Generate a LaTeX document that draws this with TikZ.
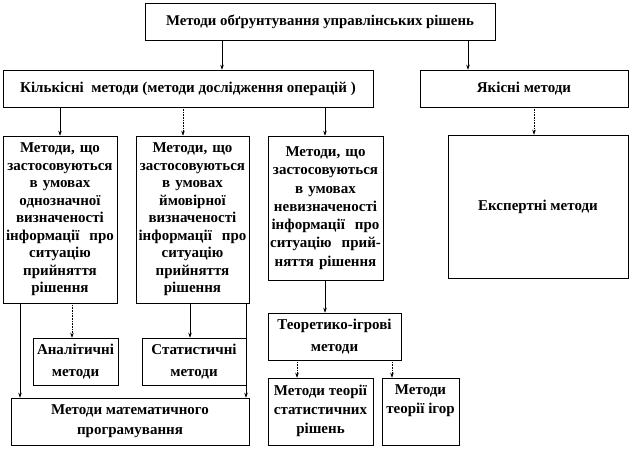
\documentclass[tikz,border=0pt]{standalone}
\usepackage{fontspec}
\setmainfont{Liberation Serif}
\usetikzlibrary{arrows.meta}
\begin{document}
\begin{tikzpicture}[x=1pt,y=-1pt,
  box/.style={draw, line width=0.6pt, inner sep=0pt, align=center, font=\bfseries\fontsize{15}{17.5}\selectfont},
  arr/.style={line width=0.6pt, -{Stealth[length=5pt,width=3.5pt]}},
  darr/.style={arr, densely dotted}]
\useasboundingbox (0,0) rectangle (631,449);
\node[box, minimum width=350, minimum height=37, font=\bfseries\fontsize{14.8}{17}\selectfont] (top) at (320,21.5) {Методи обґрунтування управлінських рішень};
\node[box, minimum width=370, minimum height=37] (kil) at (188,88.5) {Кількісні\ \ методи (методи дослідження операцій )};
\node[box, minimum width=208, minimum height=37] (yak) at (524,88.5) {Якісні методи};
\node[box, minimum width=114, minimum height=167, text width=114] (b1) at (60,219.5) {Методи, що\\застосовуються\\в умовах\\однозначної\\визначеності\\інформації\ \ про\\ситуацію\\прийняття\\рішення};
\node[box, minimum width=113, minimum height=167, text width=113] (b2) at (192.5,219.5) {Методи, що\\застосовуються\\в умовах\\ймовірної\\визначеності\\інформації\ \ про\\ситуацію\\прийняття\\рішення};
\node[box, minimum width=115, minimum height=144, text width=115, font=\bfseries\fontsize{15}{18.3}\selectfont] (b3) at (325.5,208) {Методи, що\\застосовуються\\в умовах\\невизначеності\\інформації\ \ про\\ситуацію\ \ прий-\\няття рішення};
\node[box, minimum width=180, minimum height=143] (exp) at (538,206.5) {Експертні методи};
\node[box, minimum width=133, minimum height=47, font=\bfseries\fontsize{15}{22}\selectfont] (teo) at (334.5,336.5) {Теоретико-ігрові\\методи};
\node[box, minimum width=85, minimum height=47, font=\bfseries\fontsize{15}{22}\selectfont] (an) at (75.5,361.5) {Аналітичні\\методи};
\node[box, minimum width=104, minimum height=47, font=\bfseries\fontsize{15}{22}\selectfont] (st) at (194,361.5) {Статистичні\\методи};
\node[box, minimum width=238, minimum height=47, font=\bfseries\fontsize{15}{20}\selectfont] (mp) at (130,421.5) {Методи математичного\\програмування};
\node[box, minimum width=105, minimum height=67, font=\bfseries\fontsize{15}{19}\selectfont] (tsr) at (320.5,411.5) {\parbox[c][67pt][t]{105pt}{\centering\vspace{7pt}Методи теорії\\статистичних\\рішень}};
\node[box, minimum width=77, minimum height=67, font=\bfseries\fontsize{15}{19}\selectfont] (tig) at (420.5,411.5) {\parbox[c][67pt][t]{77pt}{\centering\vspace{7pt}Методи\\теорії ігор}};
% connectors
\draw[arr] (top.south -| 222,0) -- (kil.north -| 222,0);
\draw[arr] (top.south -| 468,0) -- (yak.north -| 468,0);
\draw[arr] (kil.south -| 60,0) -- (b1.north -| 60,0);
\draw[darr] (kil.south -| 183,0) -- (b2.north -| 183,0);
\draw[arr] (kil.south -| 325,0) -- (b3.north -| 325,0);
\draw[darr] (yak.south -| 534,0) -- (exp.north -| 534,0);
\draw[arr] (b1.south -| 20,0) -- (mp.north -| 20,0);
\draw[darr] (b1.south -| 72,0) -- (an.north -| 72,0);
\draw[arr] (b2.south -| 190,0) -- (st.north -| 190,0);
\draw[arr] (b2.south -| 246,0) -- (mp.north -| 246,0);
\draw[arr] (b3.south -| 325,0) -- (teo.north -| 325,0);
\draw[darr] (teo.south -| 297,0) -- (tsr.north -| 297,0);
\draw[darr] (teo.south -| 392,0) -- (tig.north -| 392,0);
\end{tikzpicture}
\end{document}
